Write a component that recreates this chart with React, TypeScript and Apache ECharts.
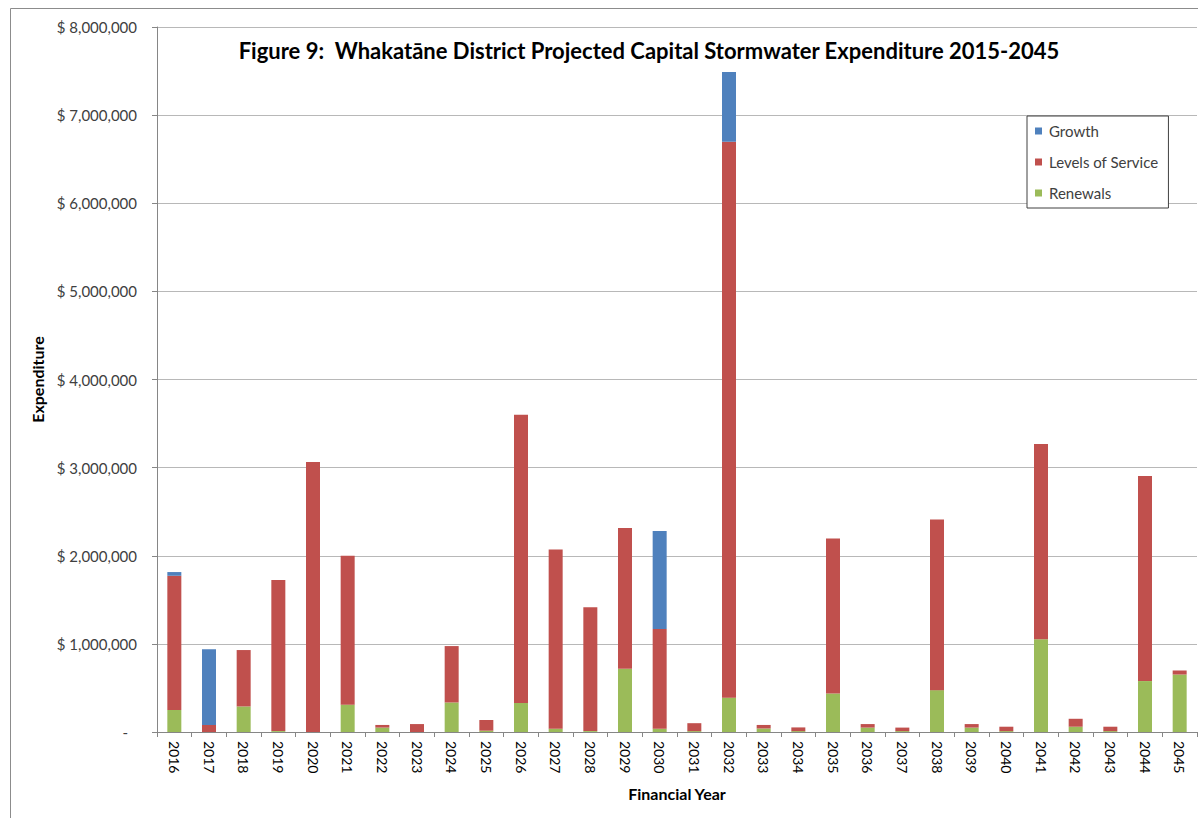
import React, { useEffect, useRef } from "react";
import * as echarts from "echarts";

// Financial years on the category axis
const years: string[] = [
  "2016", "2017", "2018", "2019", "2020", "2021", "2022", "2023", "2024", "2025",
  "2026", "2027", "2028", "2029", "2030", "2031", "2032", "2033", "2034", "2035",
  "2036", "2037", "2038", "2039", "2040", "2041", "2042", "2043", "2044", "2045",
];

// Capital expenditure per year, in dollars, by driver
const renewals: number[] = [
  250000, 0, 290000, 10000, 0, 310000, 50000, 0, 335000, 15000,
  330000, 37000, 10000, 717000, 37000, 10000, 390000, 40000, 10000, 437000,
  50000, 10000, 475000, 50000, 10000, 1053000, 60000, 10000, 578000, 652000,
];

const levelsOfService: number[] = [
  1523000, 80000, 640000, 1715000, 3064000, 1690000, 30000, 90000, 640000, 121000,
  3270000, 2033000, 1405000, 1597000, 1133000, 90000, 6307000, 40000, 42000, 1760000,
  40000, 40000, 1937000, 40000, 50000, 2215000, 90000, 50000, 2328000, 46000,
];

const growth: number[] = [
  42000, 860000, 0, 0, 0, 0, 0, 0, 0, 0,
  0, 0, 0, 0, 1110000, 0, 793000, 0, 0, 0,
  0, 0, 0, 0, 0, 0, 0, 0, 0, 0,
];

const titleText = "Figure 9:  Whakatāne District Projected Capital Stormwater Expenditure 2015-2045";

const FONT = "Lato, 'Open Sans', sans-serif";

export default function App() {
  const ref = useRef<HTMLDivElement>(null);

  useEffect(() => {
    if (!ref.current) return;
    const chart = echarts.init(ref.current, undefined, { renderer: "svg" });

    const barCommon = {
      type: "bar" as const,
      stack: "total",
      barWidth: 14,
    };

    chart.setOption({
      animation: false,
      backgroundColor: "#ffffff",
      textStyle: { fontFamily: FONT },
      graphic: [
        {
          type: "rect",
          shape: { x: 10.5, y: 8.5, width: 1300, height: 1000 },
          style: { fill: "none", stroke: "#8c8c8c", lineWidth: 1 },
          silent: true,
        },
        {
          type: "text",
          x: 649,
          y: 50,
          style: {
            text: titleText,
            fontFamily: FONT,
            fontSize: 22,
            fontWeight: "bold",
            fill: "#000000",
            align: "center",
            verticalAlign: "middle",
          },
        },
      ],
      legend: {
        orient: "vertical",
        left: 1027,
        top: 116,
        data: ["Growth", "Levels of Service", "Renewals"],
        itemWidth: 7,
        itemHeight: 7,
        itemGap: 13,
        icon: "rect",
        padding: [6, 10, 6, 8],
        borderColor: "#404040",
        borderWidth: 1,
        backgroundColor: "#ffffff",
        textStyle: {
          fontFamily: FONT,
          fontSize: 15,
          lineHeight: 18,
          color: "#404040",
          padding: [0, 0, 0, 2],
        },
      },
      grid: {
        left: 157,
        top: 27,
        right: 1,
        bottom: 86,
        containLabel: false,
      },
      xAxis: {
        type: "category",
        data: years,
        name: "Financial Year",
        nameLocation: "middle",
        nameGap: 53,
        nameTextStyle: {
          fontFamily: FONT,
          fontSize: 16,
          fontWeight: "bold",
          color: "#000000",
        },
        axisLine: { show: true, lineStyle: { color: "#868686" } },
        axisTick: { show: true, length: 5, lineStyle: { color: "#868686" } },
        axisLabel: {
          rotate: -90,
          margin: 9,
          fontFamily: FONT,
          fontSize: 14,
          color: "#000000",
          interval: 0,
        },
        splitLine: { show: false },
      },
      yAxis: {
        type: "value",
        min: 0,
        max: 8000000,
        interval: 1000000,
        name: "Expenditure",
        nameLocation: "middle",
        nameRotate: 90,
        nameGap: 109,
        nameTextStyle: {
          fontFamily: FONT,
          fontSize: 16,
          fontWeight: "bold",
          color: "#000000",
        },
        axisLine: { show: true, lineStyle: { color: "#868686" } },
        axisTick: { show: true, length: 5, lineStyle: { color: "#868686" } },
        axisLabel: {
          margin: 20,
          fontFamily: FONT,
          fontSize: 15,
          color: "#404040",
          formatter: (v: number) =>
            v === 0 ? "{z|-}" : "$ " + v.toLocaleString("en-US"),
          rich: {
            z: { padding: [0, 9, 0, 0], fontFamily: FONT, fontSize: 15, color: "#404040" },
          },
        },
        splitLine: { show: true, lineStyle: { color: "#b8b8b8", width: 1 } },
      },
      series: [
        {
          ...barCommon,
          name: "Renewals",
          data: renewals,
          itemStyle: { color: "#9bbb59" },
        },
        {
          ...barCommon,
          name: "Levels of Service",
          data: levelsOfService,
          itemStyle: { color: "#c0504d" },
        },
        {
          ...barCommon,
          name: "Growth",
          data: growth,
          itemStyle: { color: "#4f81bd" },
        },
      ],
    });

    return () => {
      chart.dispose();
    };
  }, []);

  return (
    <div
      ref={ref}
      style={{
        position: "fixed",
        left: 0,
        top: 0,
        width: 1198,
        height: 818,
        background: "#ffffff",
      }}
    />
  );
}
